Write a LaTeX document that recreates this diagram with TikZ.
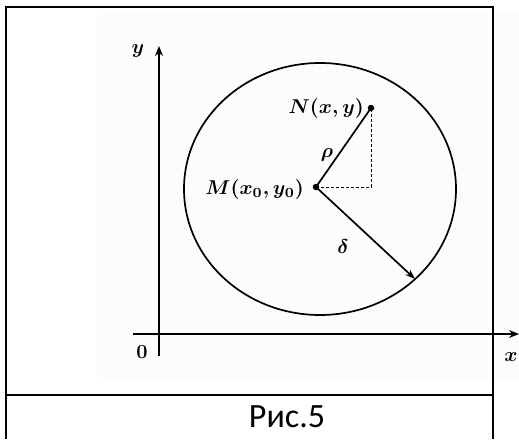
\documentclass[tikz,border=0pt]{standalone}
\usepackage{fontspec}
\usepackage{graphicx}
\newfontfamily\capfont{Carlito}
\newcommand\mylab[1]{\scalebox{2.0}{\boldmath #1}}
\usetikzlibrary{arrows.meta,shapes.geometric}
\begin{document}
\begin{tikzpicture}[x=1pt,y=-1pt,
  frameline/.style={line width=2.4pt},
  axisline/.style={line width=1.8pt,-{Stealth[length=10pt,width=8pt]}},
  curveline/.style={line width=1.7pt},
  vecline/.style={line width=1.7pt},
  helpline/.style={dash pattern=on 3pt off 2pt, line width=0.9pt},
  lbl/.style={inner sep=0pt},
  dot/.style={circle, fill=black, inner sep=0pt, minimum size=6.5pt}]
\useasboundingbox (0,0) rectangle (519,439);
\fill[black!1.2] (97,10) rectangle (519,382);
\draw[frameline] (6,439) -- (6,7) -- (493,7) -- (493,439);
\draw[frameline] (6,395) -- (493,395);
\coordinate (xs) at (133,334);
\coordinate (xe) at (519,334);
\coordinate (ys) at (159,356);
\coordinate (ye) at (159,46);
\draw[axisline] (xs) -- (xe);
\draw[axisline] (ys) -- (ye);
\node[curveline, draw, ellipse, minimum width=272pt, minimum height=252pt, inner sep=0pt] (circ) at (320,189) {};
\node[dot] (M) at (316,187) {};
\node[dot] (N) at (371,108) {};
\coordinate (C) at (371,187);
\coordinate (P) at (415,279);
\draw[helpline] (M.center) -- (C) -- (N.center);
\draw[vecline] (M.center) -- (N.center);
\draw[vecline, -{Stealth[length=10pt,width=7pt]}] (M.center) -- (P);
\node[lbl, anchor=east] (Nl) at (364,108) {\mylab{$N(x,y)$}};
\node[lbl, anchor=east] (Ml) at (304,189) {\mylab{$M(x_0,y_0)$}};
\node[lbl] (rho) at (327,155) {\mylab{$\rho$}};
\node[lbl] (del) at (343,247) {\mylab{$\delta$}};
\node[lbl] (yl) at (138,51) {\mylab{$y$}};
\node[lbl] (xl) at (511,357) {\mylab{$x$}};
\node[lbl, font=\fontsize{20}{20}\selectfont\bfseries] (ol) at (142,352) {0};
\node[font=\fontsize{34}{34}\capfont, anchor=base] (cap) at (287,427) {Рис.5};
\end{tikzpicture}
\end{document}
